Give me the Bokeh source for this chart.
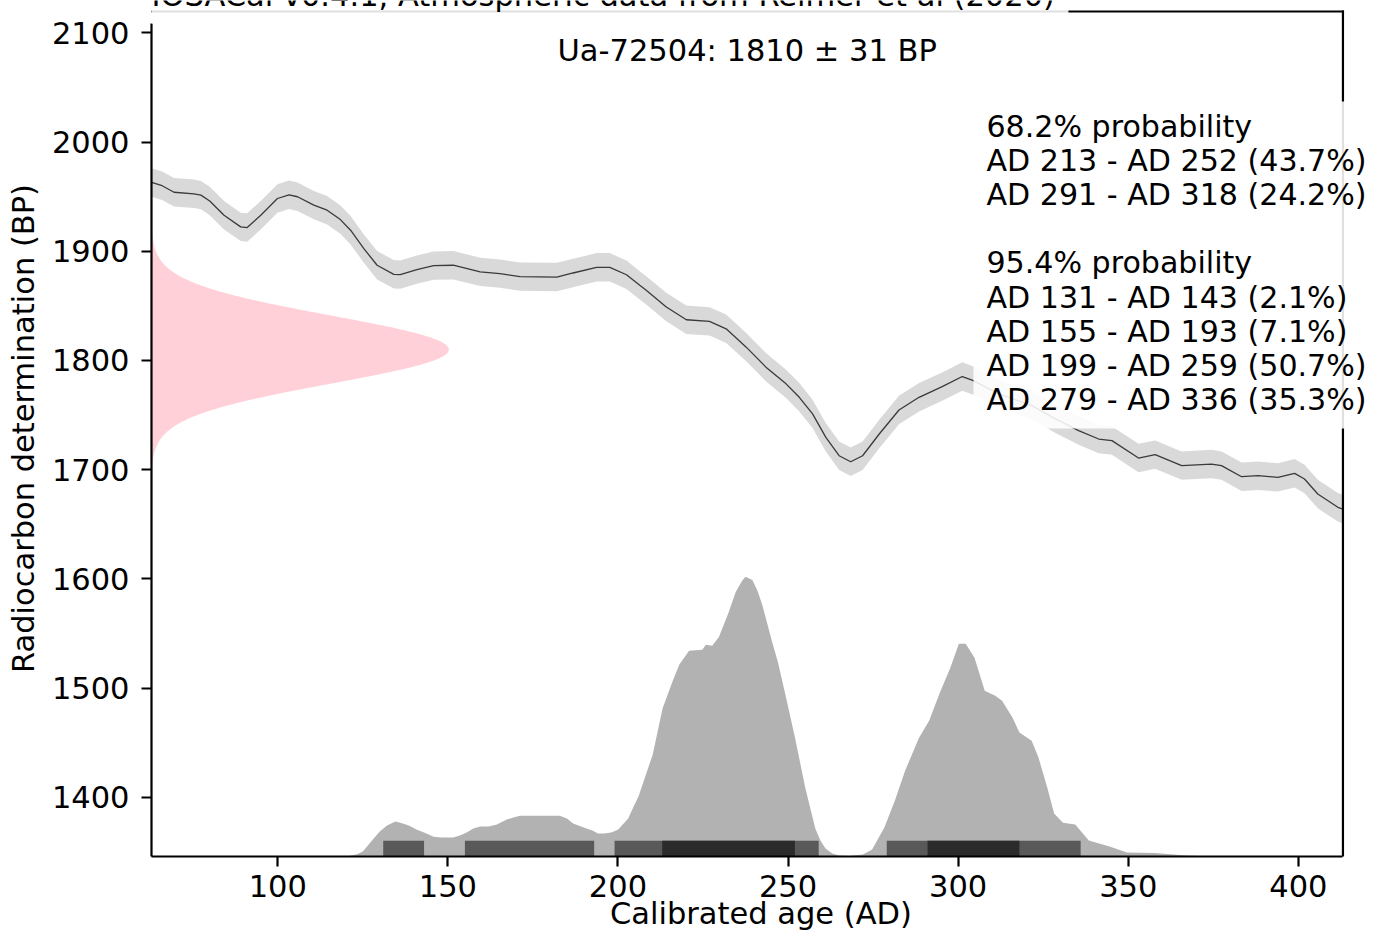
import numpy as np
from bokeh.plotting import figure
from bokeh.models import Label, BoxAnnotation, FixedTicker, Range1d
from bokeh.embed import file_html
from bokeh.resources import INLINE

# ---------------- data ----------------
title_text = "IOSACal v0.4.1, Atmospheric data from Reimer et al (2020)"
sample_name = "Ua-72504"
date_bp = 1810
date_sd = 31

# calibration curve (cal. AD, radiocarbon BP)
curve_years = [62.9, 66.0, 69.5, 75.4, 77.4, 80.0, 84.2, 89.1, 91.0, 95.0, 99.9, 103.3,
               105.8, 110.6, 114.5, 118.4, 121.4, 125.3, 129.2, 134.1, 136.0, 140.9,
               145.8, 151.6, 159.5, 165.3, 171.2, 182.0, 186.8, 193.7, 197.6, 202.5,
               206.4, 208.3, 214.2, 220.1, 226.9, 231.8, 237.7, 243.5, 249.4, 253.3,
               257.2, 261.1, 265.0, 268.4, 271.9, 276.8, 282.6, 288.5, 295.3, 301.2,
               304.1, 312.0, 321.7, 328.6, 335.4, 341.3, 345.2, 353.0, 357.9, 365.7,
               374.5, 377.4, 383.3, 388.2, 394.0, 398.9, 401.8, 405.7, 411.6, 413.1]
curve_bp = [1963.0, 1960.0, 1954.0, 1952.6, 1951.4, 1946.0, 1933.0, 1922.3, 1921.7, 1933.0,
            1948.3, 1951.7, 1949.9, 1942.2, 1937.6, 1929.0, 1919.3, 1902.4, 1887.2, 1878.9,
            1878.6, 1883.2, 1886.8, 1887.2, 1881.1, 1879.5, 1876.8, 1876.4, 1880.1, 1885.3,
            1885.3, 1878.5, 1868.8, 1864.2, 1848.9, 1837.3, 1835.8, 1829.0, 1812.2, 1793.9,
            1778.6, 1766.3, 1751.1, 1729.6, 1712.8, 1707.3, 1712.8, 1732.7, 1754.7, 1766.3,
            1776.1, 1785.3, 1782.0, 1769.4, 1758.7, 1746.5, 1735.8, 1728.1, 1726.6, 1710.7,
            1713.8, 1703.7, 1705.2, 1703.7, 1693.6, 1694.5, 1693.0, 1696.7, 1691.5, 1677.8,
            1665.6, 1664.0]
curve_sigma = 13.0

# calibrated probability (relative, peak = 1)
cal_years = [62.9, 118.0, 121.0, 123.3, 125.0, 128.2, 130.0, 132.1, 134.6, 136.0, 138.5,
             140.9, 143.0, 145.8, 148.0, 151.6, 153.5, 155.5, 157.5, 159.5, 162.0, 164.4,
             167.3, 169.0, 171.2, 177.0, 182.9, 185.0, 186.8, 190.7, 192.5, 194.1, 196.0,
             198.0, 200.0, 201.4, 203.0, 204.3, 206.0, 207.2, 210.2, 213.1, 216.0, 218.0,
             220.9, 224.8, 225.8, 227.7, 229.7, 232.6, 234.6, 236.5, 237.5, 239.5, 241.0,
             242.4, 245.3, 247.0, 249.2, 252.1, 255.1, 258.0, 259.5, 261.0, 263.0, 264.9,
             268.0, 272.0, 274.7, 278.3, 281.4, 284.4, 288.5, 291.5, 294.6, 297.7, 300.2,
             302.2, 304.8, 307.8, 310.9, 312.9, 316.0, 318.0, 321.6, 323.6, 326.2, 328.2,
             330.8, 334.4, 338.4, 344.5, 349.6, 357.8, 367.0, 375.0, 413.1]
cal_prob = [0.0, 0.0, 0.002, 0.008, 0.018, 0.064, 0.089, 0.111, 0.125, 0.121, 0.111,
            0.096, 0.086, 0.071, 0.068, 0.068, 0.075, 0.086, 0.1, 0.107, 0.107, 0.114,
            0.132, 0.139, 0.146, 0.146, 0.146, 0.136, 0.118, 0.1, 0.093, 0.082, 0.082,
            0.086, 0.096, 0.114, 0.136, 0.171, 0.214, 0.257, 0.364, 0.529, 0.625, 0.686,
            0.736, 0.739, 0.757, 0.754, 0.786, 0.875, 0.946, 0.986, 1.0, 0.989, 0.95,
            0.9, 0.768, 0.696, 0.579, 0.421, 0.243, 0.1, 0.057, 0.029, 0.011, 0.004,
            0.002, 0.007, 0.025, 0.104, 0.2, 0.307, 0.425, 0.486, 0.586, 0.675, 0.761,
            0.761, 0.711, 0.593, 0.575, 0.557, 0.496, 0.443, 0.414, 0.354, 0.246, 0.154,
            0.121, 0.114, 0.057, 0.036, 0.014, 0.0125, 0.004, 0.0, 0.0]

# highest density ranges
int68_from = [213, 291]
int68_to = [252, 318]
int68_pct = [43.7, 24.2]
int95_from = [131, 155, 199, 279]
int95_to = [143, 193, 259, 336]
int95_pct = [2.1, 7.1, 50.7, 35.3]

x_ticks = [100, 150, 200, 250, 300, 350, 400]
y_ticks = [1400, 1500, 1600, 1700, 1800, 1900, 2000, 2100]

# ---------------- figure ----------------
FONT = "DejaVu Sans"
FS = "30.5px"
W, H = 1370, 934
LEFT, BOTTOM = 151, 78
PXX = 3.402          # px per year
PXY = 1.0923         # px per BP
X0 = 62.88           # left spine
XS = 413.1           # right spine
X1 = X0 + (W - LEFT) / PXX
Y0 = 1345.9          # bottom spine
YS = 2119.5          # top spine
Y1 = Y0 + (H - BOTTOM) / PXY
DY = 11 / PXY        # text baseline correction

p = figure(width=W, height=H, output_backend="svg", toolbar_location=None,
           x_range=Range1d(X0, X1), y_range=Range1d(Y0, Y1),
           min_border_left=LEFT, min_border_right=0, min_border_top=0,
           min_border_bottom=BOTTOM)
p.background_fill_color = "white"
p.border_fill_color = "white"
p.grid.visible = False
p.outline_line_color = None

# calibration curve band and line
cy = np.array(curve_years)
cb = np.array(curve_bp)
p.varea(x=cy, y1=cb - curve_sigma, y2=cb + curve_sigma, fill_color="#d9d9d9")
p.line(cy, cb, line_color="#3a3a3a", line_width=1.3)

# radiocarbon determination (normal distribution drawn on the y axis)
gy = np.linspace(date_bp - 4 * date_sd, date_bp + 4 * date_sd, 300)
gw = 87.4 * np.exp(-0.5 * ((gy - date_bp) / date_sd) ** 2)
p.harea(y=gy, x1=X0, x2=X0 + gw, fill_color="#ffc0cb", fill_alpha=0.75)

# calibrated distribution
peak_h = 256.0
p.varea(x=cal_years, y1=Y0, y2=[Y0 + v * peak_h for v in cal_prob], fill_color="#b2b2b2")

bar_h = 14.4
p.quad(left=int95_from, right=int95_to, bottom=Y0, top=Y0 + bar_h,
       fill_color="#595959", line_color=None)
p.quad(left=int68_from, right=int68_to, bottom=Y0, top=Y0 + bar_h,
       fill_color="#2b2b2b", line_color=None)

# top and right spines
p.line([X0, XS], [YS, YS], line_color="black", line_width=2.2, line_cap="square")
p.line([XS, XS], [Y0, YS], line_color="black", line_width=2.2, line_cap="square")

# axes
for ax, ticks, lab in ((p.xaxis, x_ticks, "Calibrated age (AD)"),
                       (p.yaxis, y_ticks, "Radiocarbon determination (BP)")):
    ax.ticker = FixedTicker(ticks=ticks)
    ax.axis_label = lab
    ax.axis_label_text_font = FONT
    ax.axis_label_text_font_size = FS
    ax.axis_label_text_font_style = "normal"
    ax.axis_label_text_color = "black"
    ax.major_label_text_font = FONT
    ax.major_label_text_font_size = FS
    ax.major_label_text_color = "black"
    ax.axis_line_width = 2.2
    ax.axis_line_color = "black"
    ax.major_tick_line_width = 2.2
    ax.major_tick_line_color = "black"
    ax.major_tick_out = 10
    ax.major_tick_in = 0
    ax.minor_tick_out = 0
    ax.minor_tick_in = 0
p.xaxis.bounds = (X0, XS)
p.yaxis.bounds = (Y0, 2108.5)
p.yaxis.major_label_standoff = 12
p.yaxis.axis_label_standoff = 8
p.xaxis.major_label_standoff = 8
p.xaxis.axis_label_standoff = -4

# title box (cut at the top of the picture, as in the original)
p.add_layout(BoxAnnotation(left=X0, right=332.4, bottom=2108.5, top=Y1,
                           fill_color="white", fill_alpha=0.88, line_alpha=0))
p.add_layout(Label(x=X0, y=2124.1 + DY, text=title_text, text_font=FONT, text_font_size=FS,
                   text_baseline="alphabetic", text_align="left", text_color="black"))

# sample label
p.add_layout(Label(x=(X0 + XS) / 2, y=2073.8 + DY,
                   text=f"{sample_name}: {date_bp} ± {date_sd} BP",
                   text_font=FONT, text_font_size=FS, text_baseline="alphabetic",
                   text_align="center", text_color="black"))

# ranges text box
lines = ["68.2% probability"]
lines += [f"AD {a} - AD {b} ({c}%)" for a, b, c in zip(int68_from, int68_to, int68_pct)]
lines += ["", "95.4% probability"]
lines += [f"AD {a} - AD {b} ({c}%)" for a, b, c in zip(int95_from, int95_to, int95_pct)]

p.add_layout(BoxAnnotation(left=304.5, right=X1, bottom=1737.8, top=2037.1,
                           fill_color="white", fill_alpha=0.88, line_alpha=0))
step = 31.28
for i, t in enumerate(lines):
    if t:
        p.add_layout(Label(x=308.3, y=2004.4 + DY - i * step, text=t, text_font=FONT,
                           text_font_size="30.1px", text_baseline="alphabetic",
                           text_align="left", text_color="black"))

open("out.html", "w").write(file_html(p, INLINE))
